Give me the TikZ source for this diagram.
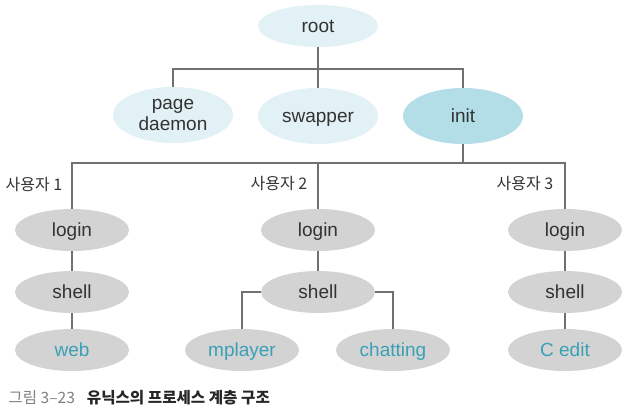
\documentclass[tikz,border=0pt]{standalone}
\usepackage{fontspec}
\setmainfont{Liberation Sans}
\newfontfamily\kr{Noto Sans CJK KR}
\usetikzlibrary{shapes.geometric}
\definecolor{paleblue}{HTML}{E1F1F5}
\definecolor{initblue}{HTML}{B4DEE7}
\definecolor{procgray}{HTML}{D3D3D3}
\definecolor{leaftext}{HTML}{3AA0B6}
\definecolor{darktext}{HTML}{333333}
\definecolor{wirecol}{HTML}{707070}
\begin{document}
\begin{tikzpicture}[x=0.5pt, y=-0.5pt,
  top/.style = {ellipse, fill=paleblue, minimum width=60pt, minimum height=28pt, inner sep=0pt, align=center, text=darktext, font=\fontsize{9.5}{10.5}\selectfont},
  proc/.style = {ellipse, fill=procgray, minimum width=57pt, minimum height=21pt, inner sep=0pt, text height=1.6ex, text depth=0.45ex, text=darktext, font=\fontsize{9.5}{10.5}\selectfont},
  leaf/.style = {proc, text=leaftext},
  user/.style = {text=darktext, font=\kr\fontsize{8}{9}\selectfont, inner sep=0pt},
  wire/.style = {draw=wirecol, line width=0.6pt}]
\useasboundingbox (0,0) rectangle (625,411);
% top of the tree
\node[top, minimum height=21pt, text height=1.6ex, text depth=0.45ex] (root) at (318,26) {root};
\node[top] (pd) at (173,115) {page\\daemon};
\node[top, text height=1.6ex, text depth=0.45ex] (sw) at (318,116) {swapper};
\node[top, text height=1.6ex, text depth=0.45ex, fill=initblue] (in) at (463,116) {init};
\coordinate (b1) at (318,69);
\draw[wire] (root) -- (b1);
\draw[wire] (pd) |- (b1) -| (in);
\draw[wire] (sw) -- (b1);
% users
\coordinate (b2) at (463,163);
\node[user] (u1) at (34,185) {사용자 1};
\node[user] (u2) at (279,184) {사용자 2};
\node[user] (u3) at (525,184) {사용자 3};
\node[proc] (l1) at (72,230) {login};
\node[proc] (l2) at (318,230) {login};
\node[proc] (l3) at (565,230) {login};
\node[proc] (s1) at (72,292) {shell};
\node[proc] (s2) at (318,292) {shell};
\node[proc] (s3) at (565,292) {shell};
\node[leaf] (web) at (72,350) {web};
\node[leaf] (mp) at (242,350) {mplayer};
\node[leaf] (ch) at (393,350) {chatting};
\node[leaf] (ce) at (565,350) {C edit};
\draw[wire] (in) -- (b2);
\draw[wire] (l1) |- (b2) -| (l3);
\draw[wire] (l2) -- (l2 |- b2);
\draw[wire] (l1) -- (s1);
\draw[wire] (l2) -- (s2);
\draw[wire] (l3) -- (s3);
\draw[wire] (s1) -- (web);
\draw[wire] (s3) -- (ce);
\draw[wire] (s2) -| (mp);
\draw[wire] (s2) -| (ch);
% caption
\node[anchor=west, inner sep=0pt, font=\kr\fontsize{7.8}{9}\selectfont] (cap) at (8,398)
  {\textcolor{gray}{그림 3–23}\hspace{6pt}\textcolor{black!85}{\bfseries 유닉스의 프로세스 계층 구조}};
\end{tikzpicture}
\end{document}
